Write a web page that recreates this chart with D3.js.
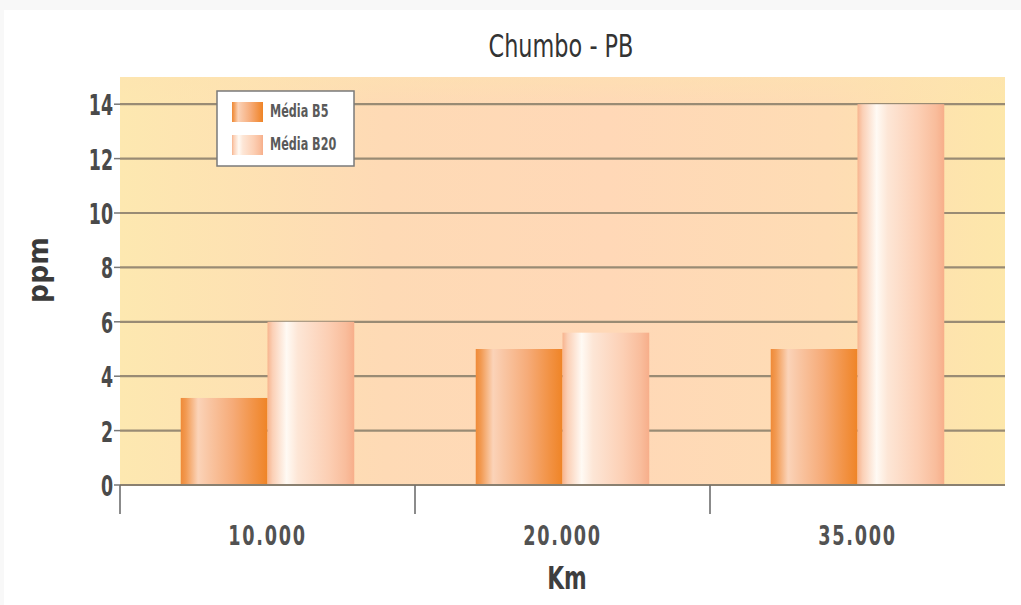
<!DOCTYPE html>
<html>
<head>
<meta charset="utf-8">
<script src="https://cdn.jsdelivr.net/npm/d3@7"></script>
<style>
  html, body { margin: 0; padding: 0; background: #ffffff; }
  svg { display: block; }
</style>
</head>
<body>
<svg id="chart" width="1021" height="605"></svg>
<script>
// Lead (Pb) concentration by distance travelled
const categories = ["10.000", "20.000", "35.000"];
const seriesNames = ["Média B5", "Média B20"];
const valuesB5  = [3.2, 5.0, 5.0];
const valuesB20 = [6.0, 5.6, 14.0];
const yTicks = [0, 2, 4, 6, 8, 10, 12, 14];
const titleText = "Chumbo - PB";
const xTitle = "Km";
const yTitle = "ppm";

const W = 1021, H = 605;
const plot = { left: 120, right: 1005, top: 77, bottom: 485 };
const FONT = "'DejaVu Sans', sans-serif";

const svg = d3.select("#chart");
const defs = svg.append("defs");

// page frame
svg.append("rect").attr("width", W).attr("height", H).attr("fill", "#f8f8f8");
svg.append("rect").attr("x", 4).attr("y", 10).attr("width", W - 4).attr("height", H - 10).attr("fill", "#ffffff");

// plot background gradient: yellow at the sides, peach in the middle
const bg = defs.append("linearGradient").attr("id", "bgGrad").attr("x1", 0).attr("x2", 1).attr("y1", 0).attr("y2", 0);
[[0, "#fde8b0"], [0.3, "#fedab5"], [0.55, "#ffd8b7"], [0.8, "#fedcb4"], [1, "#fde7aa"]]
  .forEach(([o, c]) => bg.append("stop").attr("offset", o).attr("stop-color", c));
const bgV = defs.append("linearGradient").attr("id", "bgVGrad").attr("x1", 0).attr("x2", 0).attr("y1", 0).attr("y2", 1);
[[0, "#fde3b0", 0.55], [0.08, "#fde3b0", 0], [1, "#fde3b0", 0]]
  .forEach(([o, c, a]) => bgV.append("stop").attr("offset", o).attr("stop-color", c).attr("stop-opacity", a));

// bar gradients (cylindrical shading)
function barGradient(id, stops) {
  const g = defs.append("linearGradient").attr("id", id).attr("x1", 0).attr("x2", 1).attr("y1", 0).attr("y2", 0);
  stops.forEach(([o, c]) => g.append("stop").attr("offset", o).attr("stop-color", c));
}
barGradient("gradB5", [[0, "#ef8a38"], [0.06, "#f29a52"], [0.2, "#fbd3b8"], [0.32, "#f9c6a4"], [0.6, "#f6ab78"], [0.85, "#f29244"], [1, "#ef8426"]]);
barGradient("gradB20", [[0, "#f7b48e"], [0.06, "#fbd0b6"], [0.22, "#fffaf4"], [0.35, "#fde6d6"], [0.7, "#fccfb4"], [0.9, "#f9bd9c"], [1, "#f7ae8a"]]);
const fills = ["url(#gradB5)", "url(#gradB20)"];

// scales
const x0 = d3.scaleBand().domain(categories).range([plot.left, plot.right]).paddingInner(0).paddingOuter(0);
const x1 = d3.scaleBand().domain(seriesNames).range([0, x0.bandwidth()]).paddingOuter(0.7).paddingInner(0);
const y = d3.scaleLinear().domain([0, 15]).range([plot.bottom, plot.bottom - 15 * 27.2]);

// background
svg.append("rect").attr("x", plot.left).attr("y", plot.top)
  .attr("width", plot.right - plot.left).attr("height", plot.bottom - plot.top).attr("fill", "url(#bgGrad)");
svg.append("rect").attr("x", plot.left).attr("y", plot.top)
  .attr("width", plot.right - plot.left).attr("height", plot.bottom - plot.top).attr("fill", "url(#bgVGrad)");

// gridlines
svg.append("g").selectAll("line").data(yTicks.filter(d => d > 0)).join("line")
  .attr("x1", plot.left).attr("x2", plot.right)
  .attr("y1", d => y(d)).attr("y2", d => y(d))
  .attr("stroke", "#998b74").attr("stroke-width", 2.2);

// bars
const rows = categories.map((c, i) => ({ cat: c, vals: [valuesB5[i], valuesB20[i]] }));
const groups = svg.append("g").selectAll("g").data(rows).join("g")
  .attr("transform", d => `translate(${x0(d.cat)},0)`);
groups.selectAll("rect").data(d => d.vals.map((v, j) => ({ v, j }))).join("rect")
  .attr("x", d => x1(seriesNames[d.j]))
  .attr("width", x1.bandwidth())
  .attr("y", d => y(d.v))
  .attr("height", d => y(0) - y(d.v))
  .attr("fill", d => fills[d.j]);

// baseline and x-axis ticks
svg.append("line").attr("x1", plot.left).attr("x2", plot.right)
  .attr("y1", y(0)).attr("y2", y(0)).attr("stroke", "#8a8070").attr("stroke-width", 2.2);
const xAxis = d3.axisBottom(x0).tickSize(0).tickFormat("");
svg.append("g").attr("transform", `translate(0,${y(0)})`).call(xAxis).call(g => g.select(".domain").remove());
const sepX = categories.map(c => x0(c));
svg.append("g").selectAll("line").data(sepX).join("line")
  .attr("x1", d => d).attr("x2", d => d)
  .attr("y1", y(0)).attr("y2", y(0) + 29)
  .attr("stroke", "#6e6e6e").attr("stroke-width", 1.6);

// condensed text helper
function label(g, text, xPos, yPos, size, sx, anchor, weight, fill, rotate) {
  const t = g.append("text")
    .attr("transform", `translate(${xPos},${yPos})${rotate ? ` rotate(${rotate})` : ""} scale(${sx},1)`)
    .attr("text-anchor", anchor)
    .attr("font-family", FONT)
    .attr("font-size", size)
    .attr("font-weight", weight)
    .attr("fill", fill)
    .text(text);
  return t;
}

// y axis ticks and labels
const yAxisG = svg.append("g");
yAxisG.selectAll("line").data(yTicks).join("line")
  .attr("x1", plot.left - 6).attr("x2", plot.left)
  .attr("y1", d => y(d)).attr("y2", d => y(d))
  .attr("stroke", "#777").attr("stroke-width", 1.5);
yTicks.forEach(t => label(yAxisG, String(t), 113, y(t) + 11, 29, 0.6, "end", "bold", "#4a4a4a"));

// x labels
const xLabG = svg.append("g");
categories.forEach(c => {
  label(xLabG, c, x0(c) + x0.bandwidth() / 2, 545, 26, 0.68, "middle", "bold", "#525252")
    .attr("letter-spacing", 2.5);
});

// titles
label(svg, titleText, 561, 57, 32, 0.7, "middle", "normal", "#333333");
label(svg, xTitle, 567, 589, 32, 0.68, "middle", "bold", "#3e3e3e");
label(svg, yTitle, 48, 270, 28, 0.95, "middle", "bold", "#3a3a3a", -90);

// legend
const leg = svg.append("g");
leg.append("rect").attr("x", 217).attr("y", 91).attr("width", 137).attr("height", 75)
  .attr("fill", "#ffffff").attr("stroke", "#7a7a7a").attr("stroke-width", 1.5);
seriesNames.forEach((s, i) => {
  const yy = 102 + i * 33;
  leg.append("rect").attr("x", 232).attr("y", yy).attr("width", 31).attr("height", 20).attr("fill", fills[i]);
  label(leg, s, 270, yy + 15, 17, 0.66, "start", "bold", "#5a5a5a");
});
</script>
</body>
</html>
